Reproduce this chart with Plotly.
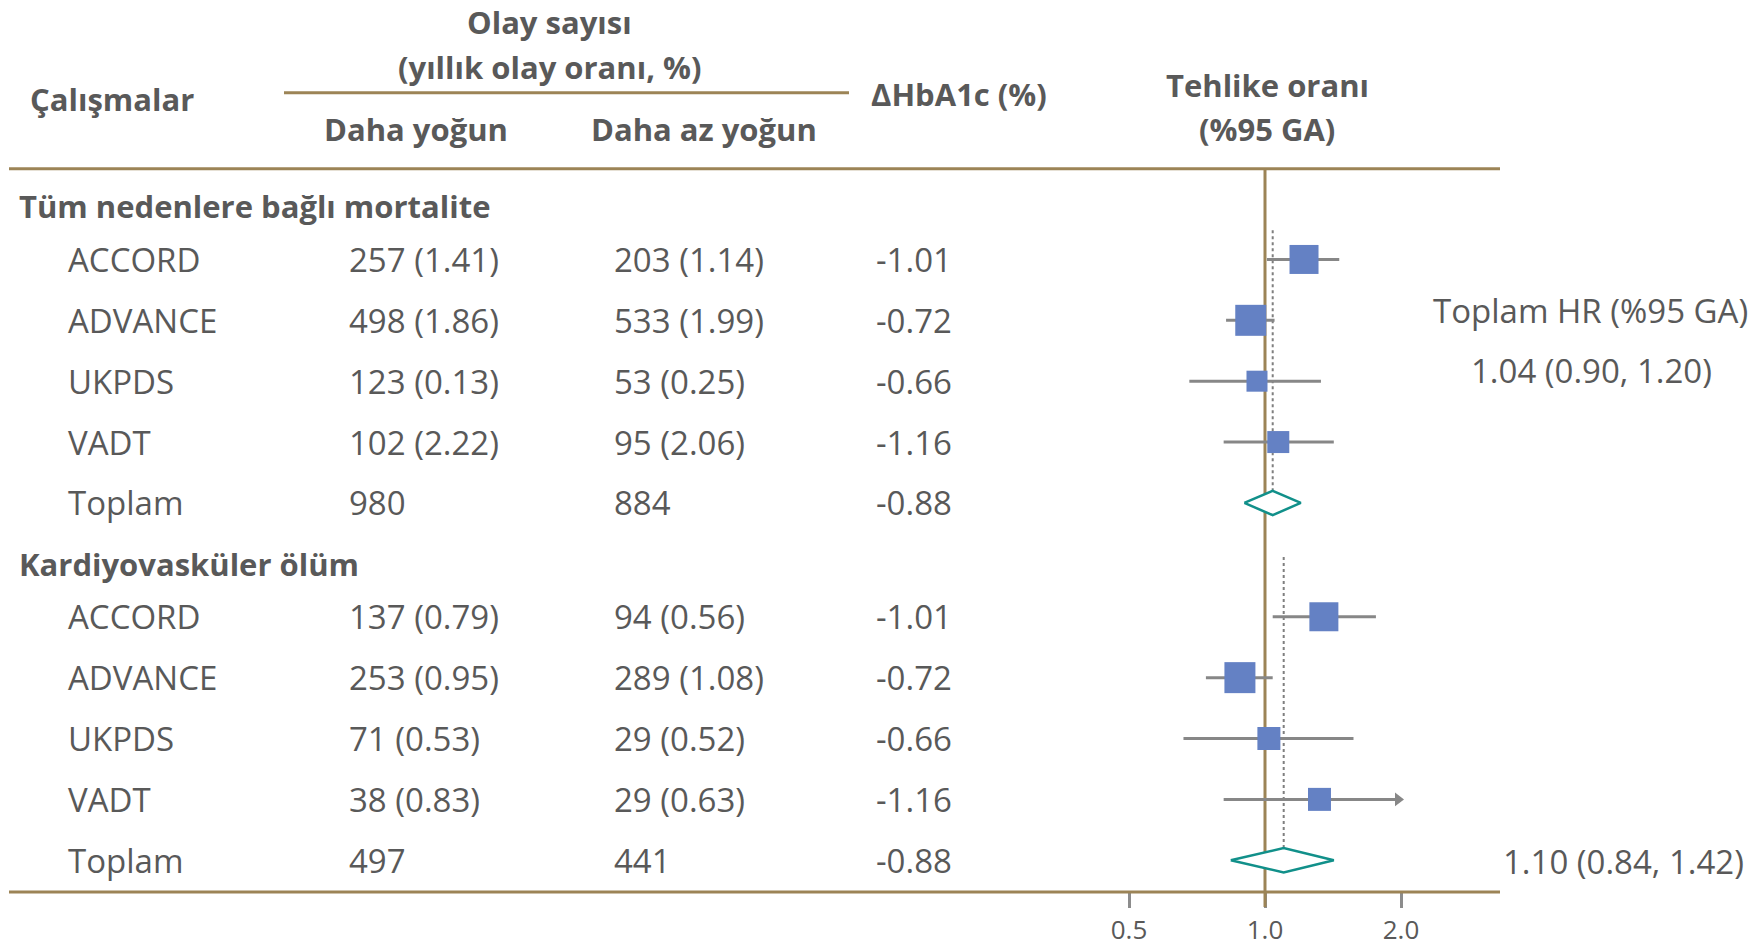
import math
import plotly.graph_objects as go

# ---------------- data ----------------
studies = ["ACCORD", "ADVANCE", "UKPDS", "VADT"]
total_label = "Toplam"
sections = ["Tüm nedenlere bağlı mortalite", "Kardiyovasküler ölüm"]

mort_intensive = ["257 (1.41)", "498 (1.86)", "123 (0.13)", "102 (2.22)", "980"]
mort_less = ["203 (1.14)", "533 (1.99)", "53 (0.25)", "95 (2.06)", "884"]
mort_hba1c = ["-1.01", "-0.72", "-0.66", "-1.16", "-0.88"]
mort_hr = [1.22, 0.93, 0.96, 1.07]
mort_lo = [1.01, 0.82, 0.68, 0.81]
mort_hi = [1.46, 1.05, 1.33, 1.42]
mort_weight = [29, 31, 21, 22]
mort_total = [1.04, 0.90, 1.20]

cv_intensive = ["137 (0.79)", "253 (0.95)", "71 (0.53)", "38 (0.83)", "497"]
cv_less = ["94 (0.56)", "289 (1.08)", "29 (0.52)", "29 (0.63)", "441"]
cv_hba1c = ["-1.01", "-0.72", "-0.66", "-1.16", "-0.88"]
cv_hr = [1.35, 0.88, 1.02, 1.32]
cv_lo = [1.04, 0.74, 0.66, 0.81]
cv_hi = [1.76, 1.04, 1.57, 2.14]
cv_weight = [29, 31, 23, 23]
cv_total = [1.10, 0.84, 1.42]

tick_vals = [0.5, 1.0, 2.0]
tick_text = ["0.5", "1.0", "2.0"]
axis_cap = 1.97  # CI beyond this is drawn as an arrow

# ---------------- layout constants ----------------
W, H = 1758, 947
BROWN = "#9C8456"
GRAY_TXT = "#595959"
WHISKER = "#878787"
BLUE = "#6481C4"
TEAL = "#11908A"
FONT = "Open Sans"
FS = 33
FS_B = 31

ROW1_PX = 260.0      # pixel centre of the first study row (index 1)
ROW_STEP = 61.0
ONE_PX = 1265.0
PX_PER_DEC = 136.0 / math.log10(2)
HEADER_OFF = 0.87    # section title sits this far above its first study row

def py2p(px):
    return 1 - px / H

def px2p(px):
    return px / W

def px2row(px):
    return 1 + (px - ROW1_PX) / ROW_STEP

fig = go.Figure()
annotations = []
shapes = []

def text(x_px, y, s, anchor="left", bold=False, size=None, yref="y"):
    annotations.append(dict(
        x=px2p(x_px), xref="paper", y=y if yref == "y" else py2p(y), yref=yref,
        text=f"<b>{s}</b>" if bold else s, showarrow=False,
        xanchor=anchor, yanchor="middle",
        font=dict(family=FONT, size=size or (FS_B if bold else FS), color=GRAY_TXT)))

# headers
text(28, 99, "Çalışmalar", bold=True, yref="paper")
text(549, 22, "Olay sayısı", anchor="center", bold=True, yref="paper")
text(549, 67, "(yıllık olay oranı, %)", anchor="center", bold=True, yref="paper")
text(416, 129, "Daha yoğun", anchor="center", bold=True, yref="paper")
text(704, 129, "Daha az yoğun", anchor="center", bold=True, yref="paper")
text(959, 94, "ΔHbA1c (%)", anchor="center", bold=True, yref="paper")
text(1267, 85, "Tehlike oranı", anchor="center", bold=True, yref="paper")
text(1267, 129, "(%95 GA)", anchor="center", bold=True, yref="paper")

for x0, x1, ypx in [(284, 849, 93), (9, 1500, 169), (9, 1500, 894)]:
    shapes.append(dict(type="line", xref="paper", yref="paper",
                       x0=px2p(x0), x1=px2p(x1), y0=py2p(ypx), y1=py2p(ypx),
                       line=dict(color=BROWN, width=3)))

# vertical line of no effect
fig.add_trace(go.Scatter(x=[1, 1], y=[px2row(169), px2row(909)], mode="lines",
                         line=dict(color=BROWN, width=3), hoverinfo="skip", showlegend=False))

blocks = [
    (sections[0], mort_intensive, mort_less, mort_hba1c, mort_hr, mort_lo, mort_hi, mort_weight, mort_total, 0.48),
    (sections[1], cv_intensive, cv_less, cv_hba1c, cv_hr, cv_lo, cv_hi, cv_weight, cv_total, 0.98),
]

DIAMOND_H = 0.2
first_row = 1.0
for (title, c_int, c_less, c_hb, hr, lo, hi, wt, tot, dot_off) in blocks:
    text(17, first_row - HEADER_OFF, title, bold=True)
    labels = studies + [total_label]
    for k, lab in enumerate(labels):
        r = first_row + k
        text(66, r, lab)
        text(347, r, c_int[k])
        text(612, r, c_less[k])
        text(874, r, c_hb[k])
    rows = [first_row + k for k in range(len(studies))]
    tot_row = first_row + len(studies)
    # dotted overall line
    fig.add_trace(go.Scatter(x=[tot[0], tot[0]], y=[rows[0] - dot_off, tot_row - DIAMOND_H],
                             mode="lines", line=dict(color="#7f7f7f", width=2, dash="dot"),
                             hoverinfo="skip", showlegend=False))
    # whiskers
    for k in range(len(studies)):
        right = min(hi[k], axis_cap)
        fig.add_trace(go.Scatter(x=[lo[k], right], y=[rows[k], rows[k]], mode="lines",
                                 line=dict(color=WHISKER, width=3),
                                 hoverinfo="skip", showlegend=False))
        if hi[k] > axis_cap:
            fig.add_trace(go.Scatter(x=[axis_cap], y=[rows[k]], mode="markers",
                                     marker=dict(symbol="triangle-right", size=12,
                                                 color=WHISKER, opacity=1),
                                     hoverinfo="skip", showlegend=False))
    # squares
    fig.add_trace(go.Scatter(x=hr, y=rows, mode="markers",
                             marker=dict(symbol="square", size=wt, color=BLUE,
                                         opacity=1, line=dict(width=0)),
                             hoverinfo="skip", showlegend=False))
    # diamond
    est, dlo, dhi = tot
    fig.add_trace(go.Scatter(x=[dlo, est, dhi, est, dlo],
                             y=[tot_row, tot_row - DIAMOND_H, tot_row, tot_row + DIAMOND_H, tot_row],
                             mode="lines", fill="toself", fillcolor="white",
                             line=dict(color=TEAL, width=2.5),
                             hoverinfo="skip", showlegend=False))
    first_row = tot_row + 1 + HEADER_OFF

# right-side summary text
text(1590, 311, "Toplam HR (%95 GA)", anchor="center", yref="paper")
text(1591, 371, f"{mort_total[0]:.2f} ({mort_total[1]:.2f}, {mort_total[2]:.2f})", anchor="center", yref="paper")
text(1746, 863, f"{cv_total[0]:.2f} ({cv_total[1]:.2f}, {cv_total[2]:.2f})", anchor="right", yref="paper")

x_range = [-ONE_PX / PX_PER_DEC, (W - ONE_PX) / PX_PER_DEC]
y_range = [px2row(H), px2row(0)]

fig.update_layout(
    width=W, height=H, margin=dict(l=0, r=0, t=0, b=0),
    paper_bgcolor="white", plot_bgcolor="white",
    xaxis=dict(type="log", range=x_range, domain=[0, 1], anchor="free", position=py2p(894),
               showgrid=False, zeroline=False, showline=False,
               tickmode="array", tickvals=tick_vals, ticktext=tick_text,
               ticks="outside", ticklen=15, tickwidth=3, tickcolor="#8c8c8c",
               tickfont=dict(family=FONT, size=26, color=GRAY_TXT), layer="below traces",
               fixedrange=True),
    yaxis=dict(range=y_range, domain=[0, 1], showgrid=False, zeroline=False,
               showline=False, showticklabels=False, ticks="", fixedrange=True),
    annotations=annotations, shapes=shapes, showlegend=False,
)

fig.write_html("out.html", config={"displayModeBar": False},
               post_script="document.body.style.margin='0';")
